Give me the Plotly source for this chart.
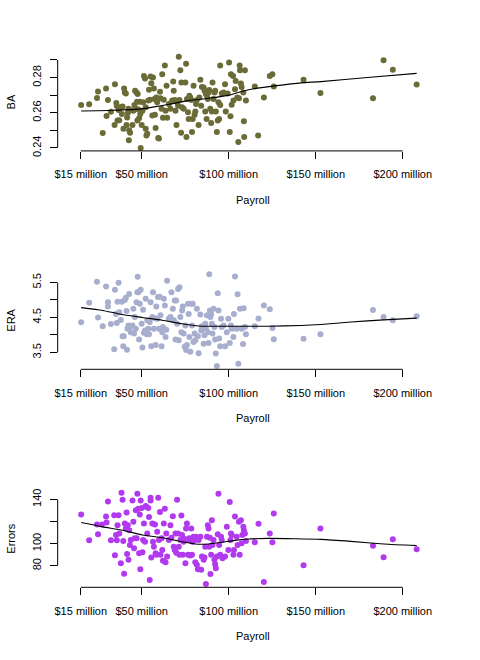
import plotly.graph_objects as go

# ---------------- data ----------------
payroll_ba = [15.2, 19.8, 24.3, 24.9, 27.6, 29.5, 29.8, 30.6, 32.3, 34.6, 34.4, 35.4, 35.7, 36.1, 37.1, 36.7,
              38.0, 38.6, 39.0, 39.5, 39.9, 40.3, 40.9, 41.3, 41.6, 42.0, 42.6, 42.8, 43.3, 42.4, 43.7, 44.7,
              45.2, 45.8, 46.2, 46.6, 47.0, 47.3, 47.7, 48.1, 47.5, 48.5, 48.9, 49.2, 49.4, 50.0, 50.4, 50.8,
              51.3, 51.9, 52.3, 52.3, 52.7, 53.2, 53.8, 54.2, 54.8, 55.1, 55.5, 56.1, 56.5, 57.0, 57.4, 57.6,
              58.0, 58.4, 58.9, 59.5, 59.9, 60.5, 60.8, 61.4, 61.8, 62.2, 62.7, 63.3, 63.7, 64.3, 64.6, 65.6,
              66.5, 67.5, 68.1, 68.4, 69.0, 69.4, 70.0, 70.3, 70.9, 71.3, 71.7, 72.2, 72.6, 72.8, 73.2, 74.1,
              75.1, 75.5, 75.7, 76.0, 76.6, 77.0, 77.4, 77.9, 78.5, 78.9, 79.3, 79.8, 80.4, 80.8, 81.2, 81.7,
              82.7, 83.1, 83.7, 84.2, 84.6, 85.6, 86.1, 86.5, 86.9, 87.3, 87.5, 88.0, 88.4, 88.8, 89.4, 89.9,
              90.3, 90.7, 91.3, 91.8, 92.2, 92.6, 93.2, 93.7, 94.1, 94.5, 95.1, 95.1, 96.0, 97.0, 97.9, 98.3,
              99.4, 100.2, 100.6, 101.0, 101.3, 101.7, 102.5, 102.7, 103.6, 104.0, 104.9, 105.5, 105.9, 106.3,
              106.5, 107.0, 107.4, 108.4, 108.7, 108.9, 109.3, 109.9, 115.0, 116.9, 120.2, 123.6, 125.1, 125.9,
              143.0, 152.7, 182.9, 189.0, 194.3, 208.0]
ba = [0.2644, 0.2648, 0.2684, 0.2721, 0.2485, 0.2738, 0.2582, 0.2672, 0.2605, 0.2762, 0.2531, 0.2655,
      0.2638, 0.2556, 0.2558, 0.2616, 0.2631, 0.2593, 0.2635, 0.2509, 0.2738, 0.2715, 0.2710, 0.2531,
      0.2573, 0.2599, 0.2443, 0.2500, 0.2486, 0.2622, 0.2616, 0.2531, 0.2612, 0.2644, 0.2725, 0.2622,
      0.2715, 0.2663, 0.2706, 0.2618, 0.2556, 0.2569, 0.2663, 0.2593, 0.2400, 0.2531, 0.2612, 0.2659,
      0.2809, 0.2794, 0.2631, 0.2509, 0.2471, 0.2481, 0.2669, 0.2731, 0.2674, 0.2806, 0.2768, 0.2584,
      0.2800, 0.2738, 0.2678, 0.2588, 0.2513, 0.2687, 0.2659, 0.2456, 0.2453, 0.2719, 0.2682, 0.2622,
      0.2819, 0.2571, 0.2674, 0.2869, 0.2612, 0.2753, 0.2571, 0.2650, 0.2622, 0.2669, 0.2777, 0.2725,
      0.2672, 0.2612, 0.2531, 0.2659, 0.2640, 0.2918, 0.2672, 0.2841, 0.2486, 0.2772, 0.2631, 0.2622,
      0.2772, 0.2879, 0.2462, 0.2678, 0.2603, 0.2565, 0.2697, 0.2687, 0.2672, 0.2490, 0.2565, 0.2753,
      0.2588, 0.2607, 0.2650, 0.2672, 0.2531, 0.2687, 0.2787, 0.2640, 0.2747, 0.2744, 0.2725, 0.2607,
      0.2706, 0.2565, 0.2697, 0.2678, 0.2715, 0.2729, 0.2622, 0.2541, 0.2607, 0.2772, 0.2678, 0.2715,
      0.2725, 0.2607, 0.2490, 0.2556, 0.2659, 0.2565, 0.2869, 0.2644, 0.2710, 0.2715, 0.2762, 0.2607,
      0.2710, 0.2885, 0.2490, 0.2580, 0.2819, 0.2646, 0.2809, 0.2669, 0.2734, 0.2781, 0.2687, 0.2434,
      0.2682, 0.2869, 0.2841, 0.2766, 0.2747, 0.2715, 0.2552, 0.2462, 0.2841, 0.2669, 0.2749, 0.2471,
      0.2687, 0.2809, 0.2819, 0.2749, 0.2787, 0.2712, 0.2682, 0.2898, 0.2845, 0.2761]

payroll_era = [15.2, 19.8, 24.3, 24.9, 27.6, 29.5, 30.6, 30.6, 32.3, 34.2, 34.6, 35.2, 35.7, 36.1, 36.7, 37.1,
               38.0, 38.6, 39.0, 39.4, 39.7, 40.3, 40.9, 41.3, 41.6, 41.8, 42.4, 42.8, 43.2, 43.7, 44.7, 45.2,
               45.6, 46.0, 46.6, 47.0, 47.5, 47.7, 48.1, 48.5, 48.9, 49.4, 50.0, 50.4, 50.8, 51.3, 51.9, 52.3,
               52.9, 53.2, 53.8, 54.2, 54.6, 55.1, 55.5, 56.1, 56.5, 57.0, 57.6, 58.0, 58.4, 58.9, 59.3, 59.9,
               60.3, 60.8, 61.4, 61.8, 62.2, 62.7, 63.3, 63.7, 64.1, 64.6, 65.6, 66.5, 67.1, 67.9, 68.4, 69.0,
               69.4, 69.8, 70.3, 70.9, 71.3, 71.7, 72.2, 72.8, 73.2, 73.6, 74.1, 74.7, 75.1, 75.5, 76.0, 76.6,
               77.0, 77.4, 77.9, 78.5, 78.9, 79.3, 79.8, 80.4, 80.8, 81.7, 82.3, 82.7, 83.7, 84.2, 84.6, 85.6,
               86.1, 86.5, 86.9, 87.5, 88.0, 88.4, 88.8, 89.2, 89.5, 89.9, 90.3, 90.7, 91.3, 91.8, 92.2, 92.6,
               93.2, 93.7, 94.1, 94.5, 95.1, 95.6, 96.0, 97.0, 97.9, 98.9, 99.8, 100.6, 101.3, 101.7, 102.7,
               103.0, 103.6, 104.6, 105.1, 105.5, 106.5, 107.4, 108.2, 108.6, 109.3, 109.9, 115.0, 117.1, 120.2,
               123.6, 125.1, 125.9, 143.0, 152.7, 182.9, 189.0, 194.3, 208.0]
era = [4.36, 4.92, 5.52, 4.50, 4.25, 5.38, 4.81, 4.93, 4.31, 3.59, 5.29, 4.60, 4.34, 4.95, 5.49, 4.65,
       4.43, 4.95, 3.96, 3.68, 3.96, 5.00, 5.06, 4.68, 3.58, 4.18, 4.27, 5.17, 4.23, 4.08, 4.27, 4.75,
       4.04, 4.51, 4.18, 4.93, 5.22, 5.66, 5.22, 3.87, 4.89, 5.29, 4.32, 3.64, 4.72, 4.06, 4.13, 5.03,
       4.02, 4.42, 4.18, 4.02, 4.37, 4.93, 3.68, 4.51, 5.22, 4.18, 4.48, 3.71, 4.81, 4.46, 5.08, 4.18,
       5.09, 4.56, 3.68, 4.08, 4.23, 5.03, 4.84, 3.94, 4.15, 5.55, 4.46, 4.51, 5.22, 4.75, 4.42, 4.98,
       3.87, 4.98, 4.32, 5.31, 3.85, 5.36, 4.51, 4.08, 4.70, 4.81, 4.04, 3.66, 4.27, 3.57, 3.71, 4.89,
       4.60, 3.94, 3.52, 4.89, 4.27, 4.89, 3.80, 4.04, 3.85, 4.75, 3.96, 3.48, 4.58, 4.13, 4.25, 3.75,
       3.99, 4.32, 4.18, 4.56, 4.08, 3.77, 5.73, 4.70, 4.51, 4.60, 4.32, 4.04, 4.75, 4.23, 3.87, 3.47,
       3.11, 5.19, 4.70, 3.90, 3.68, 4.46, 4.23, 4.27, 3.68, 4.08, 4.46, 3.77, 4.27, 4.18, 3.94,
       4.60, 5.67, 4.18, 5.16, 3.18, 4.75, 4.18, 3.74, 4.76, 4.23, 4.02, 4.25, 4.47, 4.84,
       4.73, 4.20, 3.88, 3.89, 4.02, 4.71, 4.51, 4.42, 4.53]

payroll_err = [15.2, 19.8, 24.3, 24.9, 27.2, 29.5, 29.8, 30.6, 32.3, 34.2, 34.6, 35.2, 35.7, 36.1, 36.7, 37.1,
               38.0, 38.4, 39.0, 39.4, 39.9, 40.3, 40.9, 41.3, 41.6, 42.0, 42.4, 42.8, 43.2, 43.7, 44.7, 45.2,
               45.6, 46.0, 46.6, 47.1, 47.5, 48.1, 48.5, 48.9, 49.2, 49.4, 50.0, 50.4, 50.8, 51.3, 51.9, 52.3,
               52.7, 53.2, 53.8, 54.2, 54.6, 55.1, 55.1, 55.5, 56.1, 56.5, 57.0, 57.6, 58.0, 58.4, 58.9, 59.5,
               59.9, 60.5, 60.8, 61.4, 61.8, 62.2, 62.7, 63.3, 63.7, 64.1, 64.6, 65.6, 66.5, 67.1, 67.9, 68.4,
               69.0, 69.4, 69.8, 70.3, 70.9, 71.3, 71.7, 72.2, 72.8, 73.2, 73.6, 74.1, 74.7, 75.1, 75.5, 76.0,
               76.6, 77.0, 77.4, 77.9, 78.5, 78.9, 79.3, 79.8, 80.4, 80.8, 81.2, 81.7, 82.3, 82.7, 83.7, 84.2,
               84.6, 85.6, 86.1, 86.5, 86.9, 87.5, 88.0, 88.4, 88.8, 89.2, 89.5, 89.9, 90.3, 90.7, 91.3, 91.8,
               92.2, 92.6, 93.2, 93.7, 94.1, 94.5, 95.1, 95.6, 96.0, 96.4, 97.9, 98.9, 99.8, 100.6, 101.0,
               101.3, 101.7, 102.7, 103.0, 103.6, 104.6, 105.1, 105.9, 106.3, 107.0, 107.4, 107.8, 108.4,
               108.7, 109.3, 109.9, 115.0, 117.1, 120.2, 123.6, 125.1, 125.9, 143.0, 152.7, 182.9, 189.0,
               194.3, 208.0]
errors = [126.3, 103.0, 117.3, 108.4, 117.3, 124.5, 119.1, 138.2, 103.0, 125.7, 89.6, 107.8, 103.0, 116.7,
          125.7, 109.3, 82.4, 146.0, 139.7, 102.4, 72.8, 118.2, 113.7, 128.1, 90.7, 116.7, 85.4, 112.2,
          98.8, 103.3, 139.1, 119.7, 95.8, 104.8, 130.1, 104.8, 145.1, 131.6, 91.3, 126.3, 77.0, 139.1,
          132.2, 92.2, 103.3, 118.2, 101.8, 134.0, 133.1, 109.3, 132.2, 124.2, 67.2, 141.5, 139.1, 87.5,
          118.2, 101.8, 97.3, 117.3, 91.3, 89.9, 110.7, 141.5, 103.3, 128.7, 89.9, 104.8, 94.3, 84.5,
          118.2, 131.6, 83.3, 109.3, 88.4, 103.3, 116.7, 105.4, 124.8, 97.3, 94.3, 109.3, 91.9, 139.7,
          109.3, 97.3, 89.9, 103.3, 125.4, 107.8, 89.9, 101.8, 104.2, 82.4, 113.7, 118.2, 89.9, 103.3,
          104.8, 89.3, 113.7, 89.9, 101.8, 106.3, 103.3, 83.3, 106.3, 80.9, 77.0, 103.3, 106.3, 76.4,
          88.4, 85.4, 87.5, 97.3, 63.6, 106.3, 116.7, 113.7, 97.3, 105.4, 72.5, 89.9, 121.2, 98.8,
          103.3, 85.4, 81.5, 77.9, 88.4, 108.4, 145.1, 98.8, 89.9, 106.3, 103.3, 86.9, 88.4, 115.2,
          94.3, 137.6, 103.3, 109.3, 107.8, 89.9, 94.3, 124.5, 106.3, 98.8, 119.7, 89.9, 121.2, 100.3,
          107.8, 115.2, 112.2, 109.3, 102.4, 101.2, 117.9, 65.4, 109.3, 101.2, 127.2, 80.6, 113.7,
          98.2, 87.8, 103.9, 94.9]

# smoothed (loess) curves
fit_payroll_ba = [15.2, 33.3, 50.0, 58.0, 65.6, 77.0, 88.4, 100.2, 107.4, 115.0, 126.4, 141.6, 153.0, 179.7, 208.0]
fit_ba = [0.2610, 0.2614, 0.2622, 0.2635, 0.2648, 0.2669, 0.2682, 0.2700, 0.2721, 0.2738, 0.2753, 0.2770,
          0.2777, 0.2800, 0.2824]
fit_payroll_era = [15.2, 27.6, 37.1, 50.4, 61.8, 73.2, 84.6, 94.1, 103.6, 122.6, 141.6, 153.0, 170.2, 189.2, 208.0]
fit_era = [4.78, 4.70, 4.60, 4.50, 4.42, 4.32, 4.25, 4.25, 4.25, 4.25, 4.27, 4.30, 4.37, 4.43, 4.48]
fit_payroll_err = [15.2, 27.6, 39.0, 50.4, 61.8, 73.2, 80.8, 88.4, 96.0, 103.6, 111.2, 122.6, 137.8, 153.0,
                   170.2, 189.2, 208.0]
fit_errors = [119.1, 115.2, 112.2, 107.8, 105.4, 101.8, 99.7, 99.7, 101.2, 103.0, 104.2, 104.8, 104.5, 103.9,
              102.1, 99.7, 98.2]

x_ticks = [15, 50, 100, 150, 200]
x_tick_labels = ["$15 million", "$50 million", "$100 million", "$150 million", "$200 million"]
ba_ticks = [0.24, 0.25, 0.26, 0.27, 0.28, 0.29]
ba_tick_labels = ["0.24", "", "0.26", "", "0.28", ""]
era_ticks = [3.5, 4.0, 4.5, 5.0, 5.5]
era_tick_labels = ["3.5", "", "4.5", "", "5.5"]
err_ticks = [80, 100, 120, 140]
err_tick_labels = ["80", "100", "", "140"]

# ---------------- layout ----------------
W, H = 480, 660
LEFT_PX, RIGHT_PX = 55, 449
X_RANGE = [1.70, 226.7]
FONT = "Liberation Sans, Arial, Helvetica, sans-serif"

panels = [
    dict(title="BA", x=payroll_ba, y=ba, fx=fit_payroll_ba, fy=fit_ba, color="#6B6B38",
         ticks=ba_ticks, labels=ba_tick_labels, yrange=[0.2383, 0.2939], top=53.6, bottom=152.3),
    dict(title="ERA", x=payroll_era, y=era, fx=fit_payroll_era, fy=fit_era, color="#A8AECE",
         ticks=era_ticks, labels=era_tick_labels, yrange=[3.019, 5.822], top=273.6, bottom=372.7),
    dict(title="Errors", x=payroll_err, y=errors, fx=fit_payroll_err, fy=fit_errors, color="#B23AEE",
         ticks=err_ticks, labels=err_tick_labels, yrange=[60.57, 149.3], top=493.6, bottom=592.7),
]

fig = go.Figure()
layout = dict(
    width=W, height=H, margin=dict(l=0, r=0, t=0, b=0),
    paper_bgcolor="white", plot_bgcolor="white", showlegend=False,
    font=dict(family=FONT, size=11, color="black"),
)
shapes = []
annotations = []
xdom = [LEFT_PX / W, RIGHT_PX / W]

for i, p in enumerate(panels, start=1):
    sfx = "" if i == 1 else str(i)
    xa, ya = "x" + sfx, "y" + sfx
    fig.add_trace(go.Scatter(x=p["x"], y=p["y"], mode="markers", xaxis=xa, yaxis=ya,
                             marker=dict(color=p["color"], size=6, line=dict(width=0))))
    fig.add_trace(go.Scatter(x=p["fx"], y=p["fy"], mode="lines", xaxis=xa, yaxis=ya,
                             line=dict(color="black", width=1.1, shape="spline", smoothing=0.6)))
    ydom = [(H - p["bottom"]) / H, (H - p["top"]) / H]
    layout["xaxis" + sfx] = dict(
        domain=xdom, range=X_RANGE, anchor=ya, showgrid=False, zeroline=False, showline=False,
        tickmode="array", tickvals=x_ticks, ticktext=x_tick_labels, ticks="outside", ticklen=7,
        tickwidth=1, tickcolor="black", ticklabelstandoff=6,
        tickfont=dict(family=FONT, size=11, color="black"),
    )
    layout["yaxis" + sfx] = dict(
        domain=ydom, range=p["yrange"], anchor=xa, showgrid=False, zeroline=False, showline=False,
        tickmode="array", tickvals=p["ticks"], ticktext=p["labels"], ticks="outside", ticklen=7,
        tickwidth=1, tickcolor="black", tickangle=-90, ticklabelstandoff=4,
        tickfont=dict(family=FONT, size=11, color="black"),
    )
    # R-style axis lines spanning only the tick range
    shapes.append(dict(type="line", xref=xa, yref=ya + " domain", x0=min(x_ticks), x1=max(x_ticks),
                       y0=0, y1=0, line=dict(color="black", width=1)))
    shapes.append(dict(type="line", xref=xa + " domain", yref=ya, x0=0, x1=0,
                       y0=min(p["ticks"]), y1=max(p["ticks"]), line=dict(color="black", width=1)))
    annotations.append(dict(text="Payroll", xref="paper", yref="paper", x=sum(xdom) / 2,
                            y=(H - (p["bottom"] + 49.5)) / H, showarrow=False,
                            xanchor="center", yanchor="middle", font=dict(family=FONT, size=11)))
    annotations.append(dict(text=p["title"], xref="paper", yref="paper", x=8.5 / W,
                            y=(H - (p["top"] + p["bottom"]) / 2) / H, showarrow=False, textangle=-90,
                            xanchor="center", yanchor="middle", font=dict(family=FONT, size=11)))

layout["shapes"] = shapes
layout["annotations"] = annotations
fig.update_layout(**layout)
fig.write_html("out.html")
